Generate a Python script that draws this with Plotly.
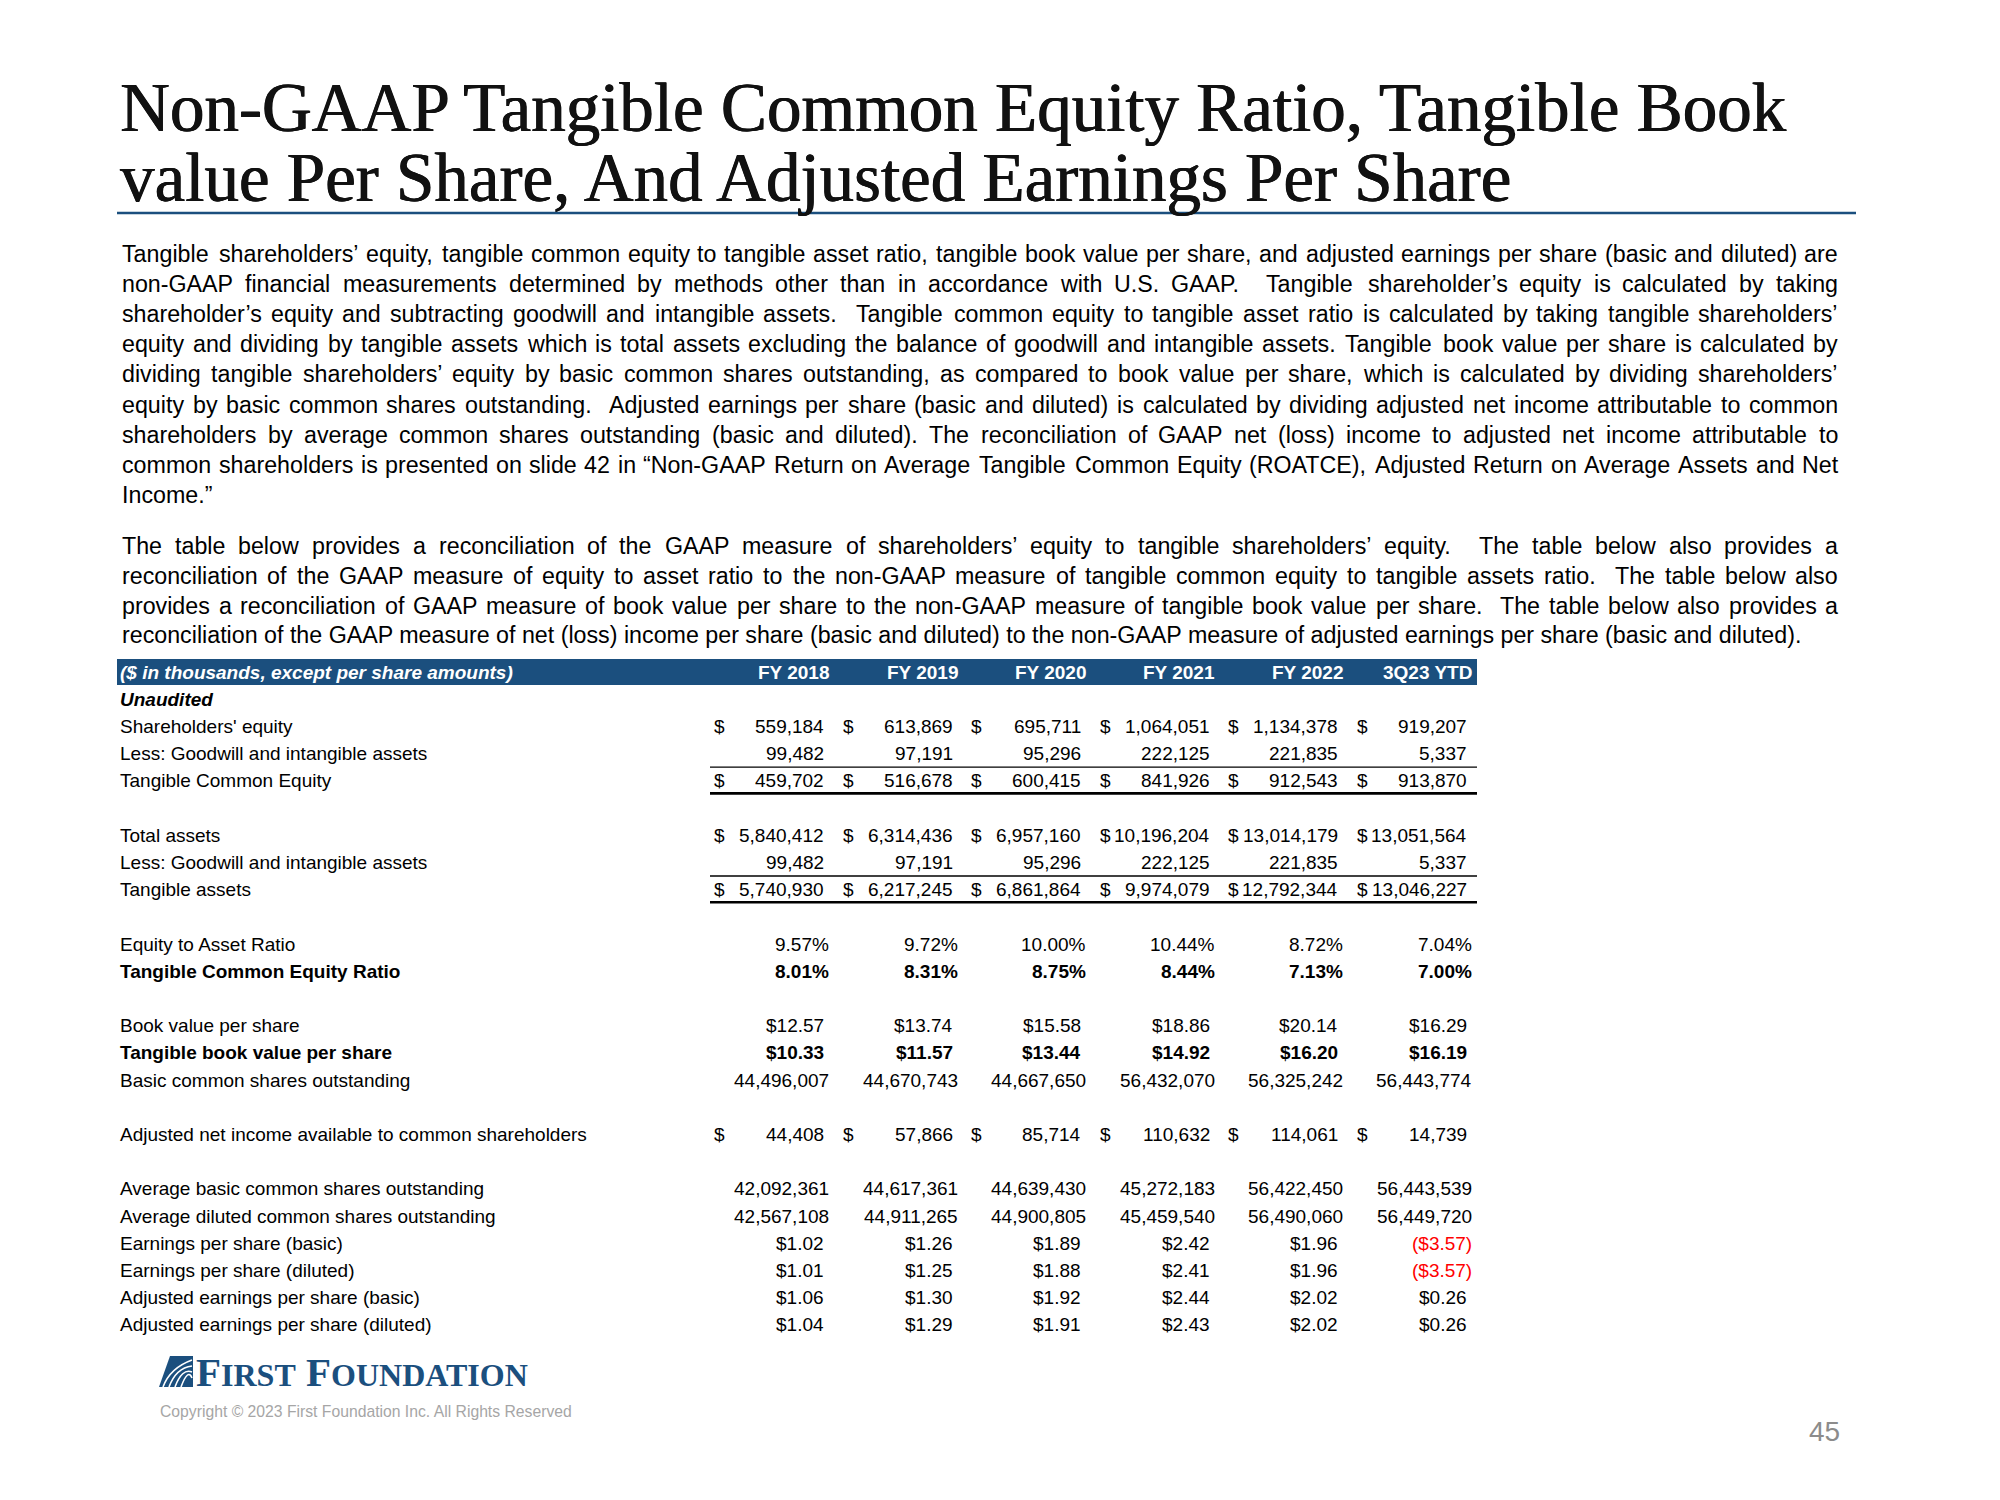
import plotly.graph_objects as go

# ---- data -------------------------------------------------------------
title_lines = [
    "Non-GAAP Tangible Common Equity Ratio, Tangible Book",
    "value Per Share, And Adjusted Earnings Per Share",
]

para1 = [
    "Tangible shareholders’ equity, tangible common equity to tangible asset ratio, tangible book value per share, and adjusted earnings per share (basic and diluted) are",
    "non-GAAP financial measurements determined by methods other than in accordance with U.S. GAAP.  Tangible shareholder’s equity is calculated by taking",
    "shareholder’s equity and subtracting goodwill and intangible assets.  Tangible common equity to tangible asset ratio is calculated by taking tangible shareholders’",
    "equity and dividing by tangible assets which is total assets excluding the balance of goodwill and intangible assets. Tangible book value per share is calculated by",
    "dividing tangible shareholders’ equity by basic common shares outstanding, as compared to book value per share, which is calculated by dividing shareholders’",
    "equity by basic common shares outstanding.  Adjusted earnings per share (basic and diluted) is calculated by dividing adjusted net income attributable to common",
    "shareholders by average common shares outstanding (basic and diluted). The reconciliation of GAAP net (loss) income to adjusted net income attributable to",
    "common shareholders is presented on slide 42 in “Non-GAAP Return on Average Tangible Common Equity (ROATCE), Adjusted Return on Average Assets and Net",
    "Income.”",
]

para2 = [
    "The table below provides a reconciliation of the GAAP measure of shareholders’ equity to tangible shareholders’ equity.  The table below also provides a",
    "reconciliation of the GAAP measure of equity to asset ratio to the non-GAAP measure of tangible common equity to tangible assets ratio.  The table below also",
    "provides a reconciliation of GAAP measure of book value per share to the non-GAAP measure of tangible book value per share.  The table below also provides a",
    "reconciliation of the GAAP measure of net (loss) income per share (basic and diluted) to the non-GAAP measure of adjusted earnings per share (basic and diluted).",
]

periods = ["FY 2018", "FY 2019", "FY 2020", "FY 2021", "FY 2022", "3Q23 YTD"]

shareholders_equity = [559184, 613869, 695711, 1064051, 1134378, 919207]
goodwill_intangibles = [99482, 97191, 95296, 222125, 221835, 5337]
tangible_common_equity = [459702, 516678, 600415, 841926, 912543, 913870]
total_assets = [5840412, 6314436, 6957160, 10196204, 13014179, 13051564]
tangible_assets = [5740930, 6217245, 6861864, 9974079, 12792344, 13046227]
equity_to_asset = [9.57, 9.72, 10.00, 10.44, 8.72, 7.04]
tce_ratio = [8.01, 8.31, 8.75, 8.44, 7.13, 7.00]
book_value_ps = [12.57, 13.74, 15.58, 18.86, 20.14, 16.29]
tangible_bv_ps = [10.33, 11.57, 13.44, 14.92, 16.20, 16.19]
basic_shares = [44496007, 44670743, 44667650, 56432070, 56325242, 56443774]
adj_net_income = [44408, 57866, 85714, 110632, 114061, 14739]
avg_basic_shares = [42092361, 44617361, 44639430, 45272183, 56422450, 56443539]
avg_diluted_shares = [42567108, 44911265, 44900805, 45459540, 56490060, 56449720]
eps_basic = [1.02, 1.26, 1.89, 2.42, 1.96, -3.57]
eps_diluted = [1.01, 1.25, 1.88, 2.41, 1.96, -3.57]
adj_eps_basic = [1.06, 1.30, 1.92, 2.44, 2.02, 0.26]
adj_eps_diluted = [1.04, 1.29, 1.91, 2.43, 2.02, 0.26]

# ---- helpers ----------------------------------------------------------
# Arial / Liberation Sans advance widths (1/1000 em)
WIDTHS = {' ': 278, '!': 278, '"': 355, '$': 556, '%': 889, '&': 667, "'": 191,
          '(': 333, ')': 333, ',': 278, '-': 333, '.': 278, '/': 278, ':': 278,
          ';': 278, '?': 556, '’': 222, '‘': 222, '“': 333, '”': 333, '©': 737}
WIDTHS.update({c: 556 for c in '0123456789'})
WIDTHS.update(dict(zip('ABCDEFGHIJKLMNOPQRSTUVWXYZ',
    [667, 667, 722, 722, 667, 611, 778, 722, 278, 500, 667, 556, 833,
     722, 778, 667, 778, 722, 667, 611, 722, 667, 944, 667, 667, 611])))
WIDTHS.update(dict(zip('abcdefghijklmnopqrstuvwxyz',
    [556, 556, 500, 556, 556, 278, 556, 556, 222, 222, 500, 222, 833,
     556, 556, 556, 556, 333, 500, 278, 556, 500, 722, 500, 500, 500])))


def text_width(s, size):
    return sum(WIDTHS.get(c, 556) for c in s) * size / 1000.0


SANS = "Liberation Sans"
SERIF = "Liberation Serif"
BLUE = "#1B4F7E"

fig = go.Figure()


def put(x, y, text, size, color="black", anchor="left", family=SANS, shadow=None):
    font = dict(family=family, size=size, color=color)
    if shadow:
        font["shadow"] = shadow
    fig.add_annotation(x=x, y=y, text=text, showarrow=False, xref="x", yref="y",
                       xanchor=anchor, yanchor="middle", borderpad=0, font=font)


def put_line(line, y, x0, x1, size, justify=True):
    if not justify:
        put(x0, y, line, size)
        return
    words = line.split(' ')
    gaps = len(words) - 1
    extra = (x1 - x0 - text_width(line, size)) / gaps
    x = x0
    for w in words:
        if w:
            put(x, y, w, size)
        x += text_width(w, size) + text_width(' ', size) + extra


# ---- title ------------------------------------------------------------
heavier = "0.6px 0 0 #111111, -0.3px 0 0 #111111"
put(119, 108, title_lines[0], 69, color="#111111", family=SERIF, shadow=heavier)
put(119, 178, title_lines[1], 69, color="#111111", family=SERIF, shadow=heavier)
fig.add_shape(type="line", x0=117, x1=1856, y0=213, y1=213,
              line=dict(color=BLUE, width=2.5))

# ---- body paragraphs ---------------------------------------------------
TX0, TX1 = 121, 1837
body_size = 1681 / (text_width(para2[-1], 1000) / 1000.0)
for i, line in enumerate(para1):
    put_line(line, 254 + 30.1 * i, TX0, TX1, body_size, justify=(i < len(para1) - 1))
for i, line in enumerate(para2):
    put_line(line, 546 + 29.8 * i, TX0, TX1, body_size, justify=(i < len(para2) - 1))

# ---- table ------------------------------------------------------------
TS = 19
ROW0, PITCH = 672, 27.2
LABEL_X = 119
col_right = [830 + 128.6 * i for i in range(len(periods))]


def row_y(i):
    return ROW0 + PITCH * i


fig.add_shape(type="rect", x0=117, x1=1477, y0=659, y1=685,
              fillcolor=BLUE, line=dict(width=0), layer="below")
put(LABEL_X, row_y(0), "<b><i>($ in thousands, except per share amounts)</i></b>", TS, color="white")
for r, p in zip(col_right, periods):
    put(r, row_y(0), "<b>" + p + "</b>", TS, color="white", anchor="right")

put(LABEL_X, row_y(1), "<b><i>Unaudited</i></b>", TS)


def money(v):
    return f"{v:,}"


def pct(v):
    return f"{v:.2f}%"


def per_share(v):
    return f"${v:.2f}" if v >= 0 else f"(${-v:.2f})"


def shares(v):
    return f"{v:,}"


# label, values, formatter, row index, bold, separate $ sign, accounting pad
rows = [
    ("Shareholders' equity", shareholders_equity, money, 2, False, True, True),
    ("Less: Goodwill and intangible assets", goodwill_intangibles, money, 3, False, False, True),
    ("Tangible Common Equity", tangible_common_equity, money, 4, False, True, True),
    ("Total assets", total_assets, money, 6, False, True, True),
    ("Less: Goodwill and intangible assets", goodwill_intangibles, money, 7, False, False, True),
    ("Tangible assets", tangible_assets, money, 8, False, True, True),
    ("Equity to Asset Ratio", equity_to_asset, pct, 10, False, False, False),
    ("Tangible Common Equity Ratio", tce_ratio, pct, 11, True, False, False),
    ("Book value per share", book_value_ps, per_share, 13, False, False, True),
    ("Tangible book value per share", tangible_bv_ps, per_share, 14, True, False, True),
    ("Basic common shares outstanding", basic_shares, shares, 15, False, False, False),
    ("Adjusted net income available to common shareholders", adj_net_income, money, 17, False, True, True),
    ("Average basic common shares outstanding", avg_basic_shares, shares, 19, False, False, False),
    ("Average diluted common shares outstanding", avg_diluted_shares, shares, 20, False, False, False),
    ("Earnings per share (basic)", eps_basic, per_share, 21, False, False, True),
    ("Earnings per share (diluted)", eps_diluted, per_share, 22, False, False, True),
    ("Adjusted earnings per share (basic)", adj_eps_basic, per_share, 23, False, False, True),
    ("Adjusted earnings per share (diluted)", adj_eps_diluted, per_share, 24, False, False, True),
]

for label, vals, fmt, ri, bold, dollar, pad in rows:
    y = row_y(ri)
    put(LABEL_X, y, f"<b>{label}</b>" if bold else label, TS)
    for r, v in zip(col_right, vals):
        txt = fmt(v)
        color = "#FF0000" if v < 0 else "black"
        right = r if (not pad or v < 0) else r - 5
        put(right, y, f"<b>{txt}</b>" if bold else txt, TS, color=color, anchor="right")
        if dollar:
            put(r - 117, y, "$", TS)

# sub-total rules
for ri in (3, 7):
    y = row_y(ri) + PITCH / 2
    fig.add_shape(type="line", x0=710, x1=1477, y0=y, y1=y, line=dict(color="black", width=1.3))
    y2 = row_y(ri + 1) + PITCH / 2 - 1
    fig.add_shape(type="line", x0=710, x1=1477, y0=y2, y1=y2, line=dict(color="black", width=2.6))

# ---- footer -----------------------------------------------------------
fig.add_shape(type="path", path="M 159 1387 L 170 1356 L 193 1356 L 193 1387 Z",
              fillcolor=BLUE, line=dict(width=0))
for k in range(4):
    fig.add_shape(type="path",
                  path=f"M {163 + 6 * k} 1387 Q {170 + 6 * k} 1368 {192} {1360 + 6 * k}",
                  line=dict(color="white", width=1.6))
put(195, 1372, "<b>F<span style='font-size:32px'>IRST</span> F<span style='font-size:32px'>OUNDATION</span></b>",
    41, color=BLUE, family=SERIF)

cp = "Copyright © 2023 First Foundation Inc. All Rights Reserved"
put(159, 1411, cp, 413 / (text_width(cp, 1000) / 1000.0), color="#A6A6A6")
put(1841, 1431, "45", 28, color="#8C8C8C", anchor="right")

# the page body has an 8px margin, so shift the ranges to keep page pixels
fig.update_layout(
    width=2000, height=1500,
    margin=dict(l=0, r=0, t=0, b=0),
    xaxis=dict(range=[8, 2008], visible=False, fixedrange=True),
    yaxis=dict(range=[1508, 8], visible=False, fixedrange=True),
    plot_bgcolor="white", paper_bgcolor="white",
    showlegend=False,
)

fig.write_html("out.html")
